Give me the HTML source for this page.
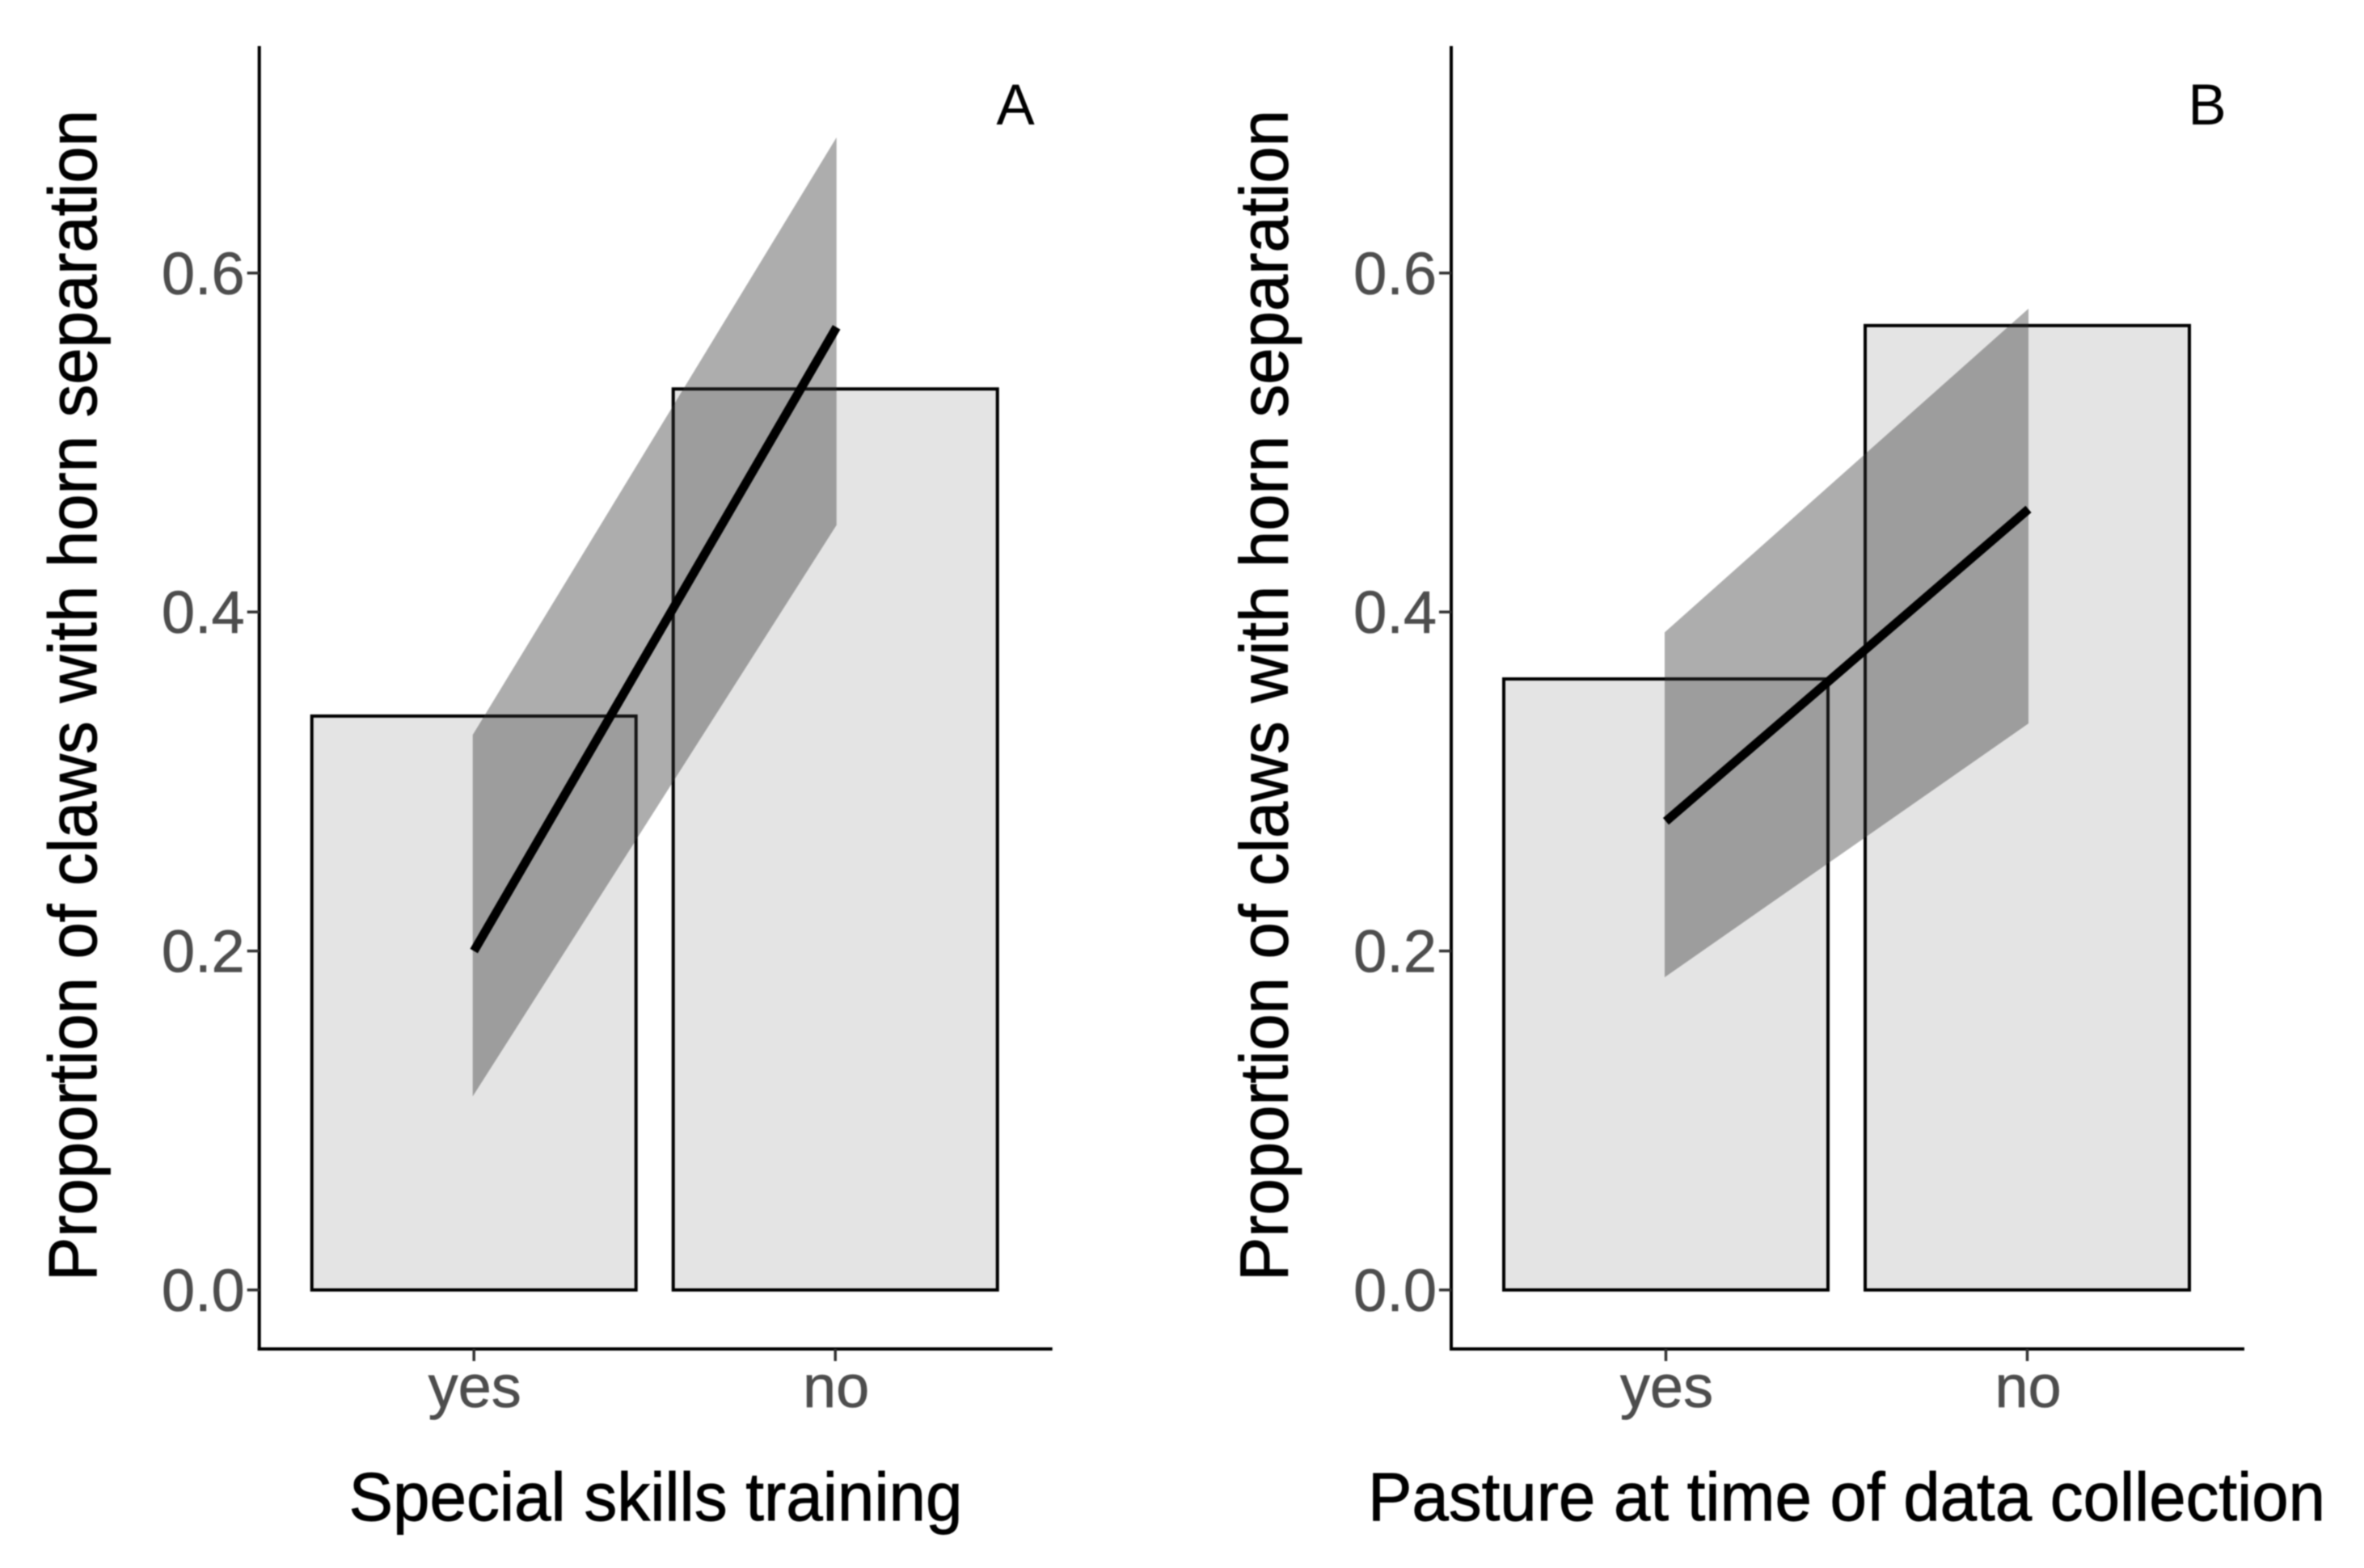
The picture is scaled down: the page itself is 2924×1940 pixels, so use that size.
<!DOCTYPE html>
<html lang="en">
<head>
<meta charset="utf-8">
<title>Proportion of claws with horn separation</title>
<style>
  html, body { margin: 0; padding: 0; background: #fff; }
  svg { display: block; font-family: "Liberation Sans", Arial, sans-serif; filter: blur(0.9px); }
  .title { stroke: #000; stroke-width: 0.9px; }
  .tick-text { stroke: #4d4d4d; stroke-width: 0.6px; }
</style>
</head>
<body>
<svg id="figure" xmlns="http://www.w3.org/2000/svg" width="2924" height="1940" viewBox="0 0 2924 1940">
  <rect x="0" y="0" width="2924" height="1940" fill="#ffffff"/>
  <g id="panel-a"></g>
  <g id="panel-b"></g>
  <text class="title" transform="translate(119 860.5) rotate(-90)" text-anchor="middle" font-size="84" fill="#000" textLength="1449" lengthAdjust="spacingAndGlyphs">Proportion of claws with horn separation</text>
  <text class="title" transform="translate(1592.5 860.5) rotate(-90)" text-anchor="middle" font-size="84" fill="#000" textLength="1449" lengthAdjust="spacingAndGlyphs">Proportion of claws with horn separation</text>
  <text class="title" x="811" y="1881" text-anchor="middle" font-size="84" fill="#000" textLength="759" lengthAdjust="spacingAndGlyphs">Special skills training</text>
  <text class="title" x="2284" y="1881" text-anchor="middle" font-size="84" fill="#000" textLength="1184" lengthAdjust="spacingAndGlyphs">Pasture at time of data collection</text>
  <text x="1256" y="154" text-anchor="middle" font-size="71" fill="#000">A</text>
  <text x="2730" y="154" text-anchor="middle" font-size="71" fill="#000">B</text>
</svg>
<script>
// Shared axis data
const categories = ['yes', 'no'];
const yTicks = [0, 0.2, 0.4, 0.6];
const yTickLabels = ['0.0', '0.2', '0.4', '0.6'];

// Panel A: special skills training
const barsA = [0.3386, 0.5316];
const lineA = [0.2, 0.568];
const bandUpperA = [0.3275, 0.68];
const bandLowerA = [0.1142, 0.4513];

// Panel B: pasture at time of data collection
const barsB = [0.3605, 0.569];
const lineB = [0.2765, 0.4607];
const bandUpperB = [0.388, 0.579];
const bandLowerB = [0.1845, 0.3342];

const SVG_NS = 'http://www.w3.org/2000/svg';

function make(parent, tag, attrs) {
  const el = document.createElementNS(SVG_NS, tag);
  for (const k in attrs) el.setAttribute(k, attrs[k]);
  parent.appendChild(el);
  return el;
}

// Vertical axis function, shared by both panels
function yScale(v) {
  return 1596 - v * 2097;
}

function drawPanel(groupId, axisX, bars, line, upper, lower) {
  const g = document.getElementById(groupId);

  // Horizontal axis function for this panel: discrete positions 1 and 2
  const step = 447;
  const xScale = function (i) { return axisX + 265.5 + i * step; };
  const barHalf = 200.5;
  const axisBottom = 1669;
  const axisTop = 57;
  const axisRight = axisX + 981;
  const bandEndShift = 1.5;

  // Bars
  categories.forEach(function (cat, i) {
    const bar = make(g, 'rect', {
      x: xScale(i) - barHalf,
      y: yScale(bars[i]),
      width: barHalf * 2,
      height: yScale(0) - yScale(bars[i]),
      fill: '#e4e4e4',
      stroke: '#000000',
      'stroke-width': 4
    });
    
    
  });

  // Confidence band
  const bandPoints = [
    [xScale(0) - bandEndShift, yScale(upper[0])],
    [xScale(1) + bandEndShift, yScale(upper[1])],
    [xScale(1) + bandEndShift, yScale(lower[1])],
    [xScale(0) - bandEndShift, yScale(lower[0])]
  ].map(function (p) { return p.join(','); }).join(' ');
  const band = make(g, 'polygon', {
    points: bandPoints,
    fill: '#333333',
    'fill-opacity': 0.4
  });
  
  

  // Fitted line
  const fit = make(g, 'line', {
    x1: xScale(0),
    y1: yScale(line[0]),
    x2: xScale(1) + 1.5,
    y2: yScale(line[1]),
    stroke: '#000000',
    'stroke-width': 11
  });
  
  

  // Axis lines
  const yAxis = make(g, 'line', {
    x1: axisX, y1: axisTop, x2: axisX, y2: axisBottom + 2,
    stroke: '#000000', 'stroke-width': 4
  });
  
  

  const xAxis = make(g, 'line', {
    x1: axisX - 2, y1: axisBottom, x2: axisRight, y2: axisBottom,
    stroke: '#000000', 'stroke-width': 4
  });
  
  

  // Y ticks and labels
  yTicks.forEach(function (v, i) {
    const tick = make(g, 'line', {
      x1: axisX - 15, y1: yScale(v), x2: axisX, y2: yScale(v),
      stroke: '#333333', 'stroke-width': 3.5
    });
    
    

    const label = make(g, 'text', {
      x: axisX - 18,
      y: yScale(v) + 26,
      'text-anchor': 'end',
      'font-size': 74,
      fill: '#4d4d4d',
      class: 'tick-text'
    });
    
    
    label.textContent = yTickLabels[i];
  });

  // X ticks and labels
  categories.forEach(function (cat, i) {
    const tick = make(g, 'line', {
      x1: xScale(i), y1: axisBottom, x2: xScale(i), y2: axisBottom + 15,
      stroke: '#333333', 'stroke-width': 3.5
    });
    
    

    const label = make(g, 'text', {
      x: xScale(i) + 1,
      y: 1741,
      'text-anchor': 'middle',
      'font-size': 74,
      fill: '#4d4d4d',
      class: 'tick-text'
    });
    
    
    label.textContent = cat;
  });
}

drawPanel('panel-a', 320.7, barsA, lineA, bandUpperA, bandLowerA);
drawPanel('panel-b', 1795, barsB, lineB, bandUpperB, bandLowerB);
</script>
</body>
</html>
